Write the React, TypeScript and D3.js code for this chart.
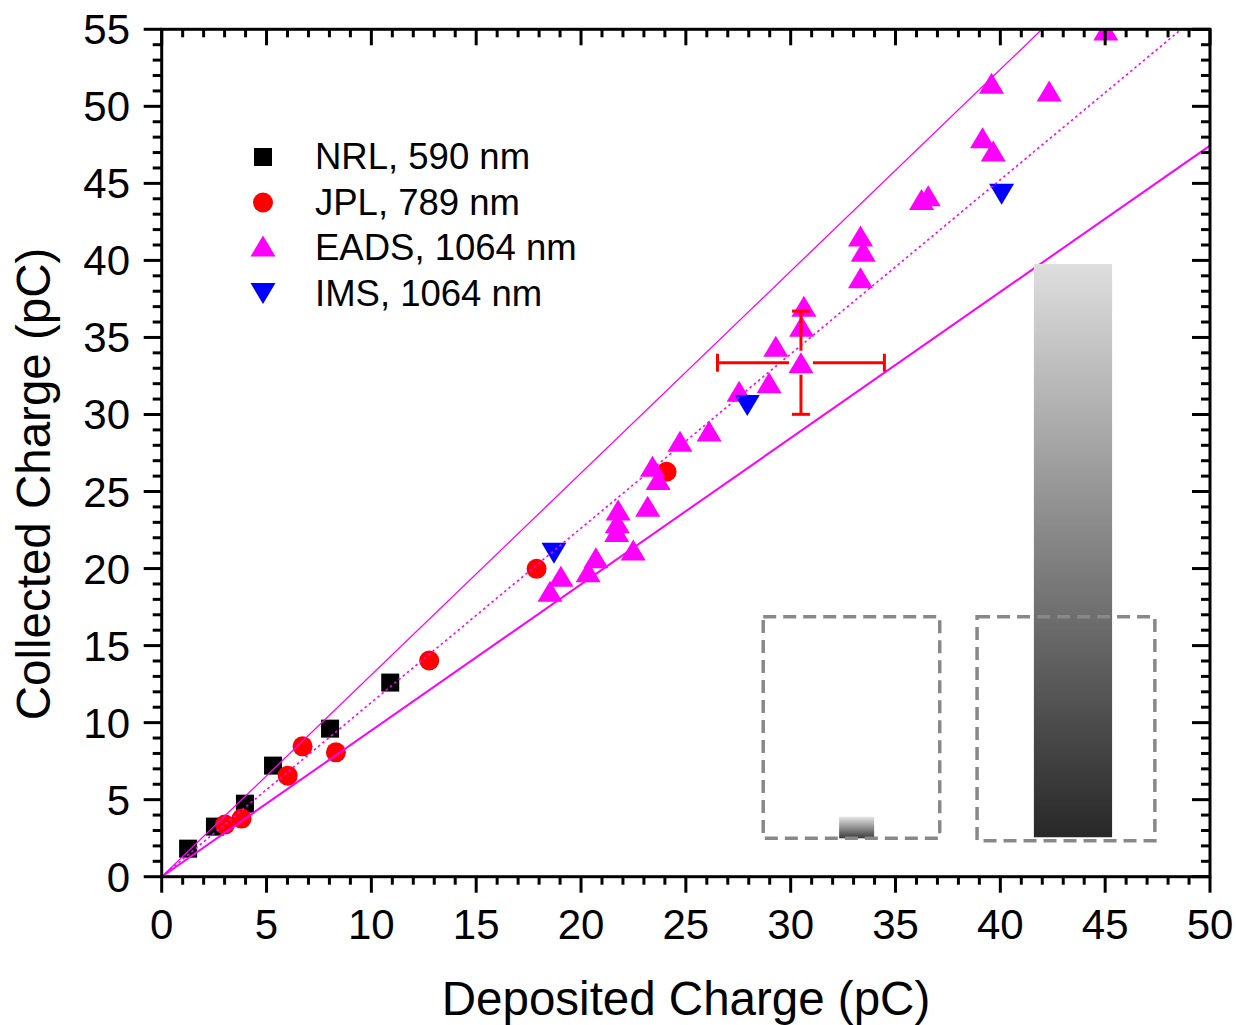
import React from "react";
import * as d3 from "d3";

const W = 1236;
const H = 1025;

// Data (pC)
const nrlX = [1.26, 2.54, 3.97, 5.31, 8.03, 10.9];
const nrlY = [1.82, 3.25, 4.74, 7.21, 9.61, 12.6];

const jplX = [3.02, 3.81, 6.01, 6.72, 8.31, 12.76, 17.88, 24.08];
const jplY = [3.38, 3.77, 6.56, 8.46, 8.07, 14.03, 19.98, 26.28];

const eadsX = [18.52, 19.04, 20.34, 20.71, 22.49, 21.7, 21.73, 21.77, 23.18, 23.68, 23.41, 24.72, 26.11, 27.54, 28.97, 29.29, 30.49, 30.52, 30.63, 33.33, 33.46, 33.33, 36.24, 36.56, 39.66, 39.15, 42.33, 39.58, 45.03];
const eadsY = [18.53, 19.5, 19.8, 20.7, 21.2, 22.4, 22.97, 23.8, 24.05, 25.78, 26.64, 28.27, 28.92, 31.5, 32.06, 34.43, 33.36, 35.73, 37.03, 38.87, 40.6, 41.58, 43.96, 44.2, 47.1, 47.96, 51.0, 51.5, 54.96];

const imsX = [18.71, 27.93, 40.06];
const imsY = [21.0, 30.58, 44.3];

// error bar on one EADS point
const errPoint = { x: 30.49, y: 33.36, xerr: 3.98, yerr: 3.35 };

// reference lines through origin (slopes)
const lineSlopes = [1.31, 1.131, 0.949];
const lineStyles = ["upper", "middle", "lower"];

const xTicks = [0, 5, 10, 15, 20, 25, 30, 35, 40, 45, 50];
const yTicks = [0, 5, 10, 15, 20, 25, 30, 35, 40, 45, 50, 55];

const legendLabels = ["NRL, 590 nm", "JPL, 789 nm", "EADS, 1064 nm", "IMS, 1064 nm"];

// inset boxes (data coordinates)
const insetBoxesX0 = [28.69, 38.89];
const insetBoxesX1 = [37.11, 47.37];
const insetBoxesYTop = [16.87, 16.87];
const insetBoxesYBot = [2.49, 2.34];
const insetBarsX0 = [32.31, 41.6];
const insetBarsX1 = [33.98, 45.33];
const insetBarsYTop = [3.89, 39.77];
const insetBarsYBot = [2.49, 2.56];

const FONT = "'Liberation Sans', Arial, Helvetica, sans-serif";
const MAGENTA = "#FF00FF";

export default function App() {
  const x = d3.scaleLinear().domain([0, 50]).range([161.7, 1210]);
  const y = d3.scaleLinear().domain([0, 55]).range([876.7, 29.3]);
  const [x0, x1] = x.range();
  const [yB, yT] = y.range();

  const minorX = d3.range(0, 51, 1);
  const minorY = d3.range(0, 56, 1);

  const sq = 18;
  const circR = 10;
  const triW = 25;
  const triH = 21;
  const upTri = `M0,${-triH / 2}L${triW / 2},${triH / 2}L${-triW / 2},${triH / 2}Z`;
  const downTri = `M0,${triH / 2}L${triW / 2},${-triH / 2}L${-triW / 2},${-triH / 2}Z`;

  const lineGen = d3
    .line<[number, number]>()
    .x((d) => x(d[0]))
    .y((d) => y(d[1]));

  const linePts = (k: number): [number, number][] => {
    const xe = Math.min(50, 55 / k);
    return [
      [0, 0],
      [xe, k * xe],
    ];
  };

  const lineProps: Record<string, any> = {
    upper: { strokeWidth: 1.3 },
    middle: { strokeWidth: 1.6, strokeDasharray: "2.5,3" },
    lower: { strokeWidth: 2 },
  };

  const ex = x(errPoint.x);
  const ey = y(errPoint.y);
  const gap = 12;
  const cap = 9;

  return (
    <svg
      width={W}
      height={H}
      style={{ position: "absolute", left: 0, top: 0, background: "#fff" }}
      fontFamily={FONT}
    >
      <defs>
        <linearGradient id="gradBig" x1="0" y1="0" x2="0" y2="1">
          <stop offset="0%" stopColor="#dedede" />
          <stop offset="100%" stopColor="#282828" />
        </linearGradient>
        <linearGradient id="gradSmall" x1="0" y1="0" x2="0" y2="1">
          <stop offset="0%" stopColor="#e6e6e6" />
          <stop offset="100%" stopColor="#3a3a3a" />
        </linearGradient>
        <clipPath id="plotClip">
          <rect x={x0} y={yT} width={x1 - x0} height={yB - yT} />
        </clipPath>
      </defs>
      <rect x={0} y={0} width={W} height={H} fill="#fff" />

      {/* markers */}
      <g clipPath="url(#plotClip)">
        {nrlX.map((v, i) => (
          <rect key={"n" + i} x={x(v) - sq / 2} y={y(nrlY[i]) - sq / 2} width={sq} height={sq} fill="#000" />
        ))}
        {jplX.map((v, i) => (
          <circle key={"j" + i} cx={x(v)} cy={y(jplY[i])} r={circR} fill="#FF0000" />
        ))}
        {eadsX.map((v, i) => (
          <path key={"e" + i} d={upTri} transform={`translate(${x(v)},${y(eadsY[i])})`} fill={MAGENTA} />
        ))}
        {imsX.map((v, i) => (
          <path key={"i" + i} d={downTri} transform={`translate(${x(v)},${y(imsY[i])})`} fill="#0000FF" />
        ))}
      </g>

      {/* reference lines */}
      {lineSlopes.map((k, i) => (
        <path
          key={"l" + i}
          d={lineGen(linePts(k)) || ""}
          fill="none"
          stroke={MAGENTA}
          {...lineProps[lineStyles[i]]}
        />
      ))}

      {/* error bars */}
      <g stroke="#FF0000" strokeWidth={3} fill="none">
        <line x1={x(errPoint.x - errPoint.xerr)} y1={ey} x2={ex - gap} y2={ey} />
        <line x1={ex + gap} y1={ey} x2={x(errPoint.x + errPoint.xerr)} y2={ey} />
        <line x1={x(errPoint.x - errPoint.xerr)} y1={ey - cap} x2={x(errPoint.x - errPoint.xerr)} y2={ey + cap} />
        <line x1={x(errPoint.x + errPoint.xerr)} y1={ey - cap} x2={x(errPoint.x + errPoint.xerr)} y2={ey + cap} />
        <line x1={ex} y1={y(errPoint.y + errPoint.yerr)} x2={ex} y2={ey - gap} />
        <line x1={ex} y1={ey + gap} x2={ex} y2={y(errPoint.y - errPoint.yerr)} />
        <line x1={ex - cap} y1={y(errPoint.y + errPoint.yerr)} x2={ex + cap} y2={y(errPoint.y + errPoint.yerr)} />
        <line x1={ex - cap} y1={y(errPoint.y - errPoint.yerr)} x2={ex + cap} y2={y(errPoint.y - errPoint.yerr)} />
      </g>

      {/* inset graphics */}
      {insetBarsX0.map((v, i) => (
        <rect
          key={"b" + i}
          x={x(v)}
          y={y(insetBarsYTop[i])}
          width={x(insetBarsX1[i]) - x(v)}
          height={y(insetBarsYBot[i]) - y(insetBarsYTop[i])}
          fill={i === 0 ? "url(#gradSmall)" : "url(#gradBig)"}
        />
      ))}
      {insetBoxesX0.map((v, i) => (
        <rect
          key={"bx" + i}
          x={x(v)}
          y={y(insetBoxesYTop[i])}
          width={x(insetBoxesX1[i]) - x(v)}
          height={y(insetBoxesYBot[i]) - y(insetBoxesYTop[i])}
          fill="none"
          stroke="#888"
          strokeWidth={3.5}
          strokeDasharray="13,7"
        />
      ))}

      {/* axes frame */}
      <g stroke="#000" strokeWidth={3} fill="none">
        <rect x={x0} y={yT} width={x1 - x0} height={yB - yT} />
        {minorX.map((v) => (
          <line key={"bx" + v} x1={x(v)} x2={x(v)} y1={yB} y2={yB + (v % 5 === 0 ? 16 : 8)} />
        ))}
        {minorX.map((v) => (
          <line key={"tx" + v} x1={x(v)} x2={x(v)} y1={yT} y2={yT + (v % 5 === 0 ? 16 : 8)} />
        ))}
        {minorY.map((v) => (
          <line key={"ly" + v} x1={x0} x2={x0 - (v % 5 === 0 ? 18 : 9)} y1={y(v)} y2={y(v)} />
        ))}
        {minorY.map((v) => (
          <line key={"ry" + v} x1={x1} x2={x1 - (v % 5 === 0 ? 18 : 9)} y1={y(v)} y2={y(v)} />
        ))}
      </g>

      {/* tick labels */}
      <g fontSize={42} fill="#000">
        {xTicks.map((v) => (
          <text key={"xt" + v} x={x(v)} y={939} textAnchor="middle">
            {v}
          </text>
        ))}
        {yTicks.map((v) => (
          <text key={"yt" + v} x={130} y={y(v) + 15} textAnchor="end">
            {v}
          </text>
        ))}
      </g>

      {/* axis titles */}
      <text x={686} y={1015} fontSize={47.5} textAnchor="middle" fill="#000">
        Deposited Charge (pC)
      </text>
      <text
        transform={`translate(50,484) rotate(-90)`}
        fontSize={47.5}
        textAnchor="middle"
        fill="#000"
      >
        Collected Charge (pC)
      </text>

      {/* legend */}
      <g>
        {legendLabels.map((lab, i) => {
          const cy = 157 + i * 45.5;
          const mx = 263;
          let marker;
          if (i === 0) marker = <rect x={mx - sq / 2} y={cy - sq / 2} width={sq} height={sq} fill="#000" />;
          else if (i === 1) marker = <circle cx={mx} cy={cy} r={circR} fill="#FF0000" />;
          else if (i === 2) marker = <path d={upTri} transform={`translate(${mx},${cy - 2})`} fill={MAGENTA} />;
          else marker = <path d={downTri} transform={`translate(${mx},${cy})`} fill="#0000FF" />;
          return (
            <g key={"lg" + i}>
              {marker}
              <text x={315} y={cy + 12} fontSize={36.5} fill="#000">
                {lab}
              </text>
            </g>
          );
        })}
      </g>
    </svg>
  );
}
